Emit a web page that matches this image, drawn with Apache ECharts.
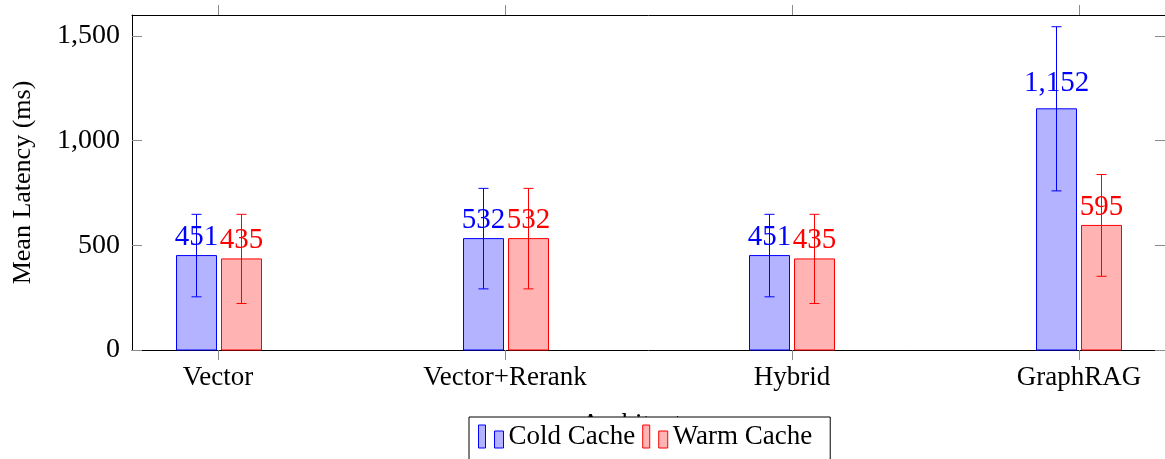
<!DOCTYPE html>
<html>
<head>
<meta charset="utf-8">
<script src="https://cdn.jsdelivr.net/npm/echarts@6/dist/echarts.min.js"></script>
<style>
html,body{margin:0;padding:0;background:#fff;}
#chart{width:1165px;height:459px;}
</style>
</head>
<body>
<div id="chart"></div>
<script>
const categories = ['Vector', 'Vector+Rerank', 'Hybrid', 'GraphRAG'];
const coldMean = [451, 532, 451, 1152];
const coldErr = [197, 240, 197, 392];
const warmMean = [435, 532, 435, 595];
const warmErr = [213, 240, 213, 243];
const yTicks = [0, 500, 1000, 1500];
const xTicks = [0, 1, 2, 3];
const seriesNames = ['Cold Cache', 'Warm Cache'];
const yTitle = 'Mean Latency (ms)';
const xTitle = 'Architecture';

const FONT = '"Liberation Serif", "Times New Roman", serif';
const fmt = v => Number(v).toLocaleString('en-US');

function makeRender(offset, stroke, fill) {
  return function (params, api) {
    const i = api.value(0), v = api.value(1), e = api.value(2);
    const base = api.coord([i, 0]);
    const top = api.coord([i, v]);
    const hi = api.coord([i, v + e]);
    const lo = api.coord([i, v - e]);
    const cx = Math.round(base[0] + offset) + 0.5;
    const w = 40;
    const label = fmt(v);
    const dy = label.indexOf(',') >= 0 ? 25 : 18.5;
    return {
      type: 'group',
      children: [
        { type: 'rect', shape: { x: cx - w / 2, y: top[1], width: w, height: base[1] - top[1] },
          style: { fill: fill, stroke: stroke, lineWidth: 1 } },
        { type: 'text', z2: 5, style: { text: label, x: cx, y: top[1] - dy, fill: stroke,
          fontSize: 29, fontFamily: FONT, align: 'center', verticalAlign: 'middle' } },
        { type: 'line', z2: 10, shape: { x1: cx, y1: hi[1], x2: cx, y2: lo[1] }, style: { stroke: stroke, lineWidth: 1 } },
        { type: 'line', z2: 10, shape: { x1: cx - 5, y1: hi[1], x2: cx + 5, y2: hi[1] }, style: { stroke: stroke, lineWidth: 1 } },
        { type: 'line', z2: 10, shape: { x1: cx - 5, y1: lo[1], x2: cx + 5, y2: lo[1] }, style: { stroke: stroke, lineWidth: 1 } }
      ]
    };
  };
}

const chart = echarts.init(document.getElementById('chart'), null, { renderer: 'canvas' });
const axisLineStyle = { show: true, onZero: false, lineStyle: { color: '#000', width: 1 } };
const tickStyle = { color: '#8a8a8a', width: 1 };

chart.setOption({
  animation: false,
  backgroundColor: '#fff',
  grid: { left: 132, top: 15, width: 1039, height: 335 },
  xAxis: [
    { type: 'value', min: -0.3, max: 3.3, position: 'bottom',
      axisLine: axisLineStyle, splitLine: { show: false },
      axisTick: { show: true, inside: false, length: 10, customValues: xTicks, lineStyle: tickStyle },
      axisLabel: { customValues: xTicks, formatter: v => categories[Math.round(v)], margin: 14,
        fontSize: 27, fontFamily: FONT, color: '#000' },
      name: xTitle, nameLocation: 'middle', nameGap: 61,
      nameTextStyle: { fontSize: 27, fontFamily: FONT, color: '#000' } },
    { type: 'value', min: -0.3, max: 3.3, position: 'top',
      axisLine: axisLineStyle, splitLine: { show: false },
      axisTick: { show: true, inside: false, length: 10, customValues: xTicks, lineStyle: tickStyle },
      axisLabel: { show: false } }
  ],
  yAxis: [
    { type: 'value', min: 0, max: 1600, position: 'left',
      axisLine: axisLineStyle, splitLine: { show: false },
      axisTick: { show: true, inside: true, length: 10, customValues: yTicks, lineStyle: tickStyle },
      axisLabel: { customValues: yTicks, formatter: fmt, margin: 12,
        fontSize: 28, fontFamily: FONT, color: '#000' },
      name: yTitle, nameLocation: 'middle', nameGap: 96, nameRotate: 90,
      nameTextStyle: { fontSize: 26, fontFamily: FONT, color: '#000' } },
    { type: 'value', min: 0, max: 1600, position: 'right',
      axisLine: axisLineStyle, splitLine: { show: false },
      axisTick: { show: true, inside: true, length: 10, customValues: yTicks, lineStyle: tickStyle },
      axisLabel: { show: false } }
  ],
  legend: {
    left: 469, top: 417, orient: 'horizontal',
    itemWidth: 25, itemHeight: 23, itemGap: 7,
    padding: [6, 18, 30, 9],
    backgroundColor: '#fff', borderColor: '#000', borderWidth: 1, borderRadius: 0,
    z: 20,
    textStyle: { fontSize: 27, fontFamily: FONT, color: '#000' },
    data: [
      { name: seriesNames[0], icon: 'path://M0,0H7V23H0Z M16,6H25V23H16Z',
        itemStyle: { color: '#b3b3ff', borderColor: '#0000ff', borderWidth: 1 } },
      { name: seriesNames[1], icon: 'path://M0,0H7V23H0Z M16,6H25V23H16Z',
        itemStyle: { color: '#ffb3b3', borderColor: '#ff0000', borderWidth: 1 } }
    ]
  },
  series: [
    { name: seriesNames[0], type: 'custom', xAxisIndex: 0, yAxisIndex: 0,
      itemStyle: { color: '#b3b3ff', borderColor: '#0000ff', borderWidth: 1 },
      renderItem: makeRender(-22.5, '#0000ff', '#b3b3ff'),
      encode: { x: 0, y: 1 },
      data: coldMean.map((v, i) => [i, v, coldErr[i]]) },
    { name: seriesNames[1], type: 'custom', xAxisIndex: 0, yAxisIndex: 0,
      itemStyle: { color: '#ffb3b3', borderColor: '#ff0000', borderWidth: 1 },
      renderItem: makeRender(22.5, '#ff0000', '#ffb3b3'),
      encode: { x: 0, y: 1 },
      data: warmMean.map((v, i) => [i, v, warmErr[i]]) }
  ]
});
</script>
</body>
</html>
